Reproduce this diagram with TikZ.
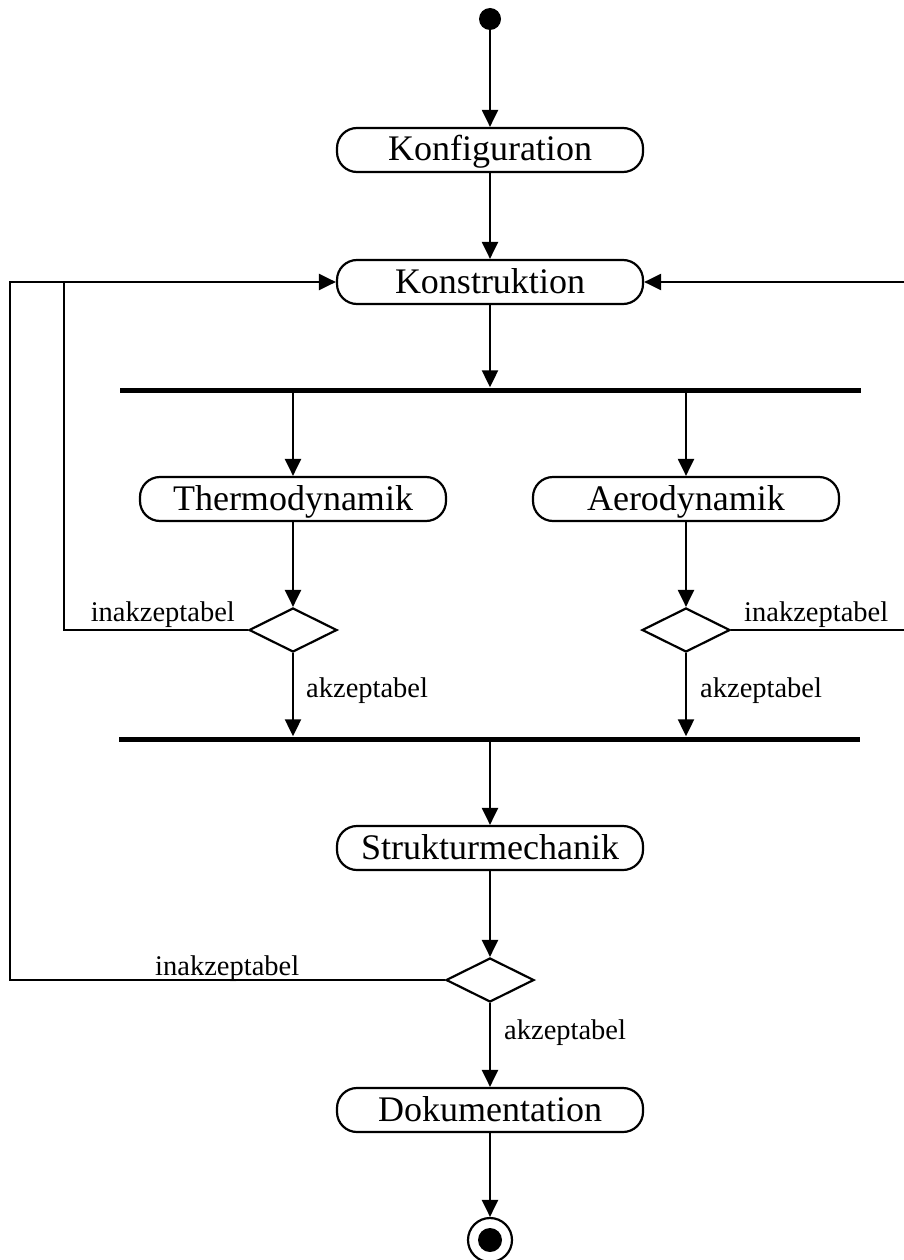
\documentclass[tikz,border=0pt]{standalone}
\usepackage{fontspec}
\setmainfont{Liberation Serif}
\usetikzlibrary{arrows.meta,shapes.geometric}

\tikzset{
  flow/.style={line width=2.2pt},
  arr/.style={flow, -{Triangle[length=17pt,width=16pt]}},
  activity/.style={draw, flow, rounded corners=20pt, minimum width=306pt,
    minimum height=44pt, inner sep=0pt, text height=28pt, text depth=6pt,
    font=\fontsize{36}{40}\selectfont},
  decision/.style={draw, flow, diamond, minimum width=88pt, minimum height=44pt,
    inner sep=0pt},
  syncbar/.style={fill=black, draw=none, minimum height=5pt, inner sep=0pt},
  guard/.style={inner sep=0pt, font=\fontsize{28.5}{32}\selectfont},
}

\begin{document}
\begin{tikzpicture}[x=1pt, y=-1pt]
  \useasboundingbox (0,0) rectangle (904,1260);

  % start and end states
  \node[circle, fill=black, minimum size=22pt, inner sep=0pt] (start) at (490,19) {};
  \node[circle, draw, flow, minimum size=44pt, inner sep=0pt] (final) at (490,1240) {};
  \node[circle, fill=black, minimum size=24pt, inner sep=0pt] (finaldot) at (final.center) {};

  % activities
  \node[activity] (konf)   at (490,150)  {Konfiguration};
  \node[activity] (konst)  at (490,282)  {Konstruktion};
  \node[activity] (thermo) at (293,499)  {Thermodynamik};
  \node[activity] (aero)   at (686,499)  {Aerodynamik};
  \node[activity] (struk)  at (490,848)  {Strukturmechanik};
  \node[activity] (doku)   at (490,1110) {Dokumentation};

  % fork and join bars
  \node[syncbar, minimum width=741pt] (fork) at (490.5,390) {};
  \node[syncbar, minimum width=741pt] (join) at (489.5,739) {};

  % decisions
  \node[decision] (d1) at (293,630) {};
  \node[decision] (d2) at (686,630) {};
  \node[decision] (d3) at (490,980) {};

  % return routes
  \coordinate (innerL) at (64,282);
  \coordinate (outerL) at (10,282);
  \coordinate (outerR) at (906,282);

  % main flow
  \draw[arr] (start) -- (konf);
  \draw[arr] (konf) -- (konst);
  \draw[arr] (konst) -- (konst |- fork.north);
  \draw[arr] (fork.south -| thermo) -- (thermo);
  \draw[arr] (fork.south -| aero) -- (aero);
  \draw[arr] (thermo) -- (d1);
  \draw[arr] (aero) -- (d2);
  \draw[arr] (d1) -- (d1 |- join.north);
  \draw[arr] (d2) -- (d2 |- join.north);
  \draw[arr] (join.south -| struk) -- (struk);
  \draw[arr] (struk) -- (d3);
  \draw[arr] (d3) -- (doku);
  \draw[arr] (doku) -- (final);

  % rejected results go back to Konstruktion
  \draw[flow] (d1.west) -| (innerL);
  \draw[arr] (d3.west) -| (outerL) -- (konst.west);
  \draw[arr] (d2.east) -| (outerR) -- (konst.east);

  % guards
  \node[guard, anchor=base east] (g1) at (235,621) {inakzeptabel};
  \node[guard, anchor=base west] (g2) at (744,621) {inakzeptabel};
  \node[guard, anchor=base west] (g3) at (155,975) {inakzeptabel};
  \node[guard, anchor=base west] (g4) at (306,697) {akzeptabel};
  \node[guard, anchor=base west] (g5) at (700,697) {akzeptabel};
  \node[guard, anchor=base west] (g6) at (504,1039) {akzeptabel};
\end{tikzpicture}
\end{document}
